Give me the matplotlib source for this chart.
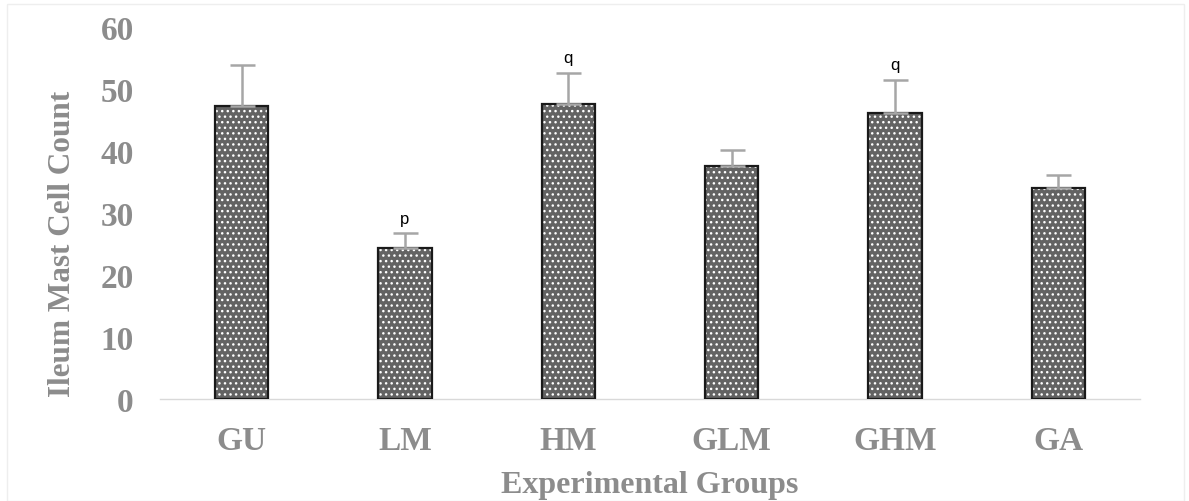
# bar chart: ileum mast cell count per experimental group
import matplotlib.pyplot as plt
import matplotlib.patches as patches

groups = ['GU', 'LM', 'HM', 'GLM', 'GHM', 'GA']
counts = [47.2, 24.3, 47.6, 37.6, 46.2, 34.1]
errors = [6.7, 2.4, 5.0, 2.6, 5.3, 2.1]
marks = ['', 'p', 'q', '', 'q', '']

grey = '#8c8c8c'
serif = ['Liberation Serif', 'DejaVu Serif']

f = plt.figure(figsize=(11.89, 5.02), dpi=100)
ax = f.add_axes([0.1346, 0.2032, 0.8242, 0.7410])

x = list(range(len(groups)))

# dotted fill, then black outline on top
ax.bar(x, counts, width=0.325, color='#636363', edgecolor='white',
       hatch='...', linewidth=0, zorder=2)
ax.bar(x, counts, width=0.325, fill=False, edgecolor='#1a1a1a',
       linewidth=1.6, zorder=3)

# upper error bars only
ax.errorbar(x, counts, yerr=[[0] * len(errors), errors], fmt='none',
            ecolor='#a6a6a6', elinewidth=1.8, capsize=9, capthick=1.8, zorder=4)

# significance letters
for xi, c, e, m in zip(x, counts, errors, marks):
    if m:
        ax.text(xi, c + e + 1.2, m, ha='center', va='bottom', size=12,
                family=['Liberation Sans', 'DejaVu Sans'], color='black')

ax.set_xlim(-0.5, len(groups) - 0.5)
ax.set_ylim(0, 60)
ax.set_yticks(range(0, 61, 10))
ax.set_xticks(x)
ax.set_xticklabels(groups)

for lab in ax.get_xticklabels() + ax.get_yticklabels():
    lab.set_family(serif)
    lab.set_fontweight('bold')
    lab.set_fontsize(24)
    lab.set_color(grey)

ax.tick_params(axis='both', length=0)
ax.tick_params(axis='y', pad=19)
ax.tick_params(axis='x', pad=19)

for s in ['top', 'right', 'left']:
    ax.spines[s].set_visible(False)
ax.spines['bottom'].set_color('#d9d9d9')
ax.spines['bottom'].set_linewidth(1)

ax.set_xlabel('Experimental Groups', family=serif, fontweight='bold',
              size=23, color=grey, labelpad=10)
ax.set_ylabel('Ileum Mast Cell Count', family=serif, fontweight='bold',
              size=22.5, color=grey, labelpad=12)
ax.yaxis.set_label_coords(-0.085, 0.42)

# faint frame around the whole figure
f.patches.append(patches.Rectangle((0.006, 0.0), 0.99, 0.99, transform=f.transFigure,
                                   fill=False, edgecolor='#eeeeee', linewidth=1))

plt.savefig('out.png', dpi=100)
